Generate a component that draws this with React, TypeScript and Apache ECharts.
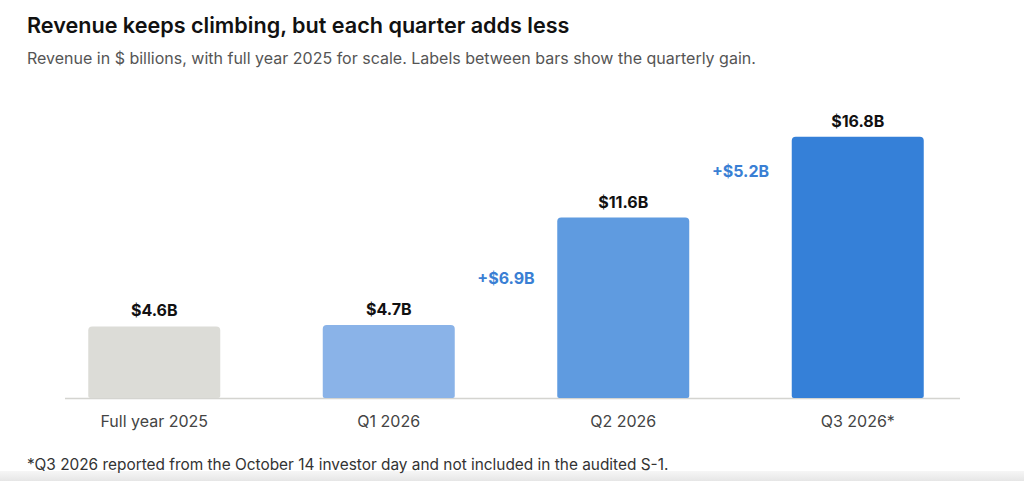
import React, { useEffect, useRef } from "react";
import * as echarts from "echarts";

// Revenue by period, $ billions
const categories = ["Full year 2025", "Q1 2026", "Q2 2026", "Q3 2026*"];
const revenue = [4.6, 4.7, 11.6, 16.8];
const barColors = ["#dcdcd7", "#8ab3e8", "#5f9be0", "#3580d8"];
// Quarterly gains are shown only between consecutive quarters
const gainFrom = [1, 2];
const gainLift = 3; // label sits this many $B above the earlier quarter

const FONT = "Inter, 'Noto Sans', sans-serif";

export default function App() {
  const ref = useRef<HTMLDivElement>(null);

  useEffect(() => {
    if (!ref.current) return;
    const chart = echarts.init(ref.current, null, { renderer: "svg" });

    const gainPoints = gainFrom.map((i) => {
      const gain = revenue[i + 1] - revenue[i];
      return {
        value: [i + 0.5, revenue[i] + gainLift],
        gain,
      };
    });

    chart.setOption({
      animation: false,
      backgroundColor: "#ffffff",
      title: [
        {
          text: "Revenue keeps climbing, but each quarter adds less",
          left: 22,
          top: 9,
          textStyle: {
            fontFamily: FONT,
            fontSize: 21.6,
            fontWeight: 600,
            color: "#111111",
          },
        },
        {
          text: "Revenue in $ billions, with full year 2025 for scale. Labels between bars show the quarterly gain.",
          left: 22,
          top: 45,
          textStyle: {
            fontFamily: FONT,
            fontSize: 16,
            fontWeight: 400,
            color: "#555555",
          },
        },
        {
          text: "*Q3 2026 reported from the October 14 investor day and not included in the audited S-1.",
          left: 22,
          top: 452,
          textStyle: {
            fontFamily: FONT,
            fontSize: 15.4,
            fontWeight: 400,
            color: "#333333",
          },
        },
      ],
      grid: { left: 37, right: 49, top: 87, bottom: 83 },
      xAxis: [
        {
          type: "category",
          data: categories,
          axisLine: { show: false },
          axisTick: { show: false },
          axisLabel: {
            fontFamily: FONT,
            fontSize: 16,
            color: "#444444",
            margin: 15,
          },
        },
        {
          type: "value",
          min: -0.5,
          max: categories.length - 0.5,
          show: false,
        },
      ],
      yAxis: {
        type: "value",
        min: 0,
        max: 20,
        show: false,
        splitLine: { show: false },
      },
      series: [
        {
          type: "bar",
          barWidth: 132,
          data: revenue.map((v, i) => ({
            value: v,
            itemStyle: { color: barColors[i], borderRadius: [4, 4, 2, 2] },
          })),
          label: {
            show: true,
            position: "top",
            distance: 8,
            formatter: (p: any) => `$${p.value.toFixed(1)}B`,
            fontFamily: FONT,
            fontSize: 16,
            fontWeight: 700,
            color: "#111111",
          },
          z: 2,
        },
        {
          type: "scatter",
          xAxisIndex: 1,
          symbolSize: 0,
          itemStyle: { opacity: 1 },
          data: gainPoints,
          label: {
            show: true,
            position: "inside",
            formatter: (p: any) => `+$${p.data.gain.toFixed(1)}B`,
            fontFamily: FONT,
            fontSize: 16,
            fontWeight: 700,
            color: "#3a7fd4",
            opacity: 1,
          },
        },
      ],
      graphic: [
        {
          type: "line",
          shape: { x1: 65, y1: 398.5, x2: 960, y2: 398.5 },
          style: { stroke: "#d4d4d0", lineWidth: 1.5 },
          z: 1,
        },
        {
          type: "rect",
          shape: { x: 0, y: 471, width: 1024, height: 10 },
          style: {
            fill: new echarts.graphic.LinearGradient(0, 0, 0, 1, [
              { offset: 0, color: "#f6f6f6" },
              { offset: 1, color: "#e6e6e6" },
            ]),
          },
          z: 0,
        },
      ],
    });

    return () => chart.dispose();
  }, []);

  return (
    <div
      ref={ref}
      style={{ position: "absolute", left: 0, top: 0, width: 1024, height: 481 }}
    />
  );
}
